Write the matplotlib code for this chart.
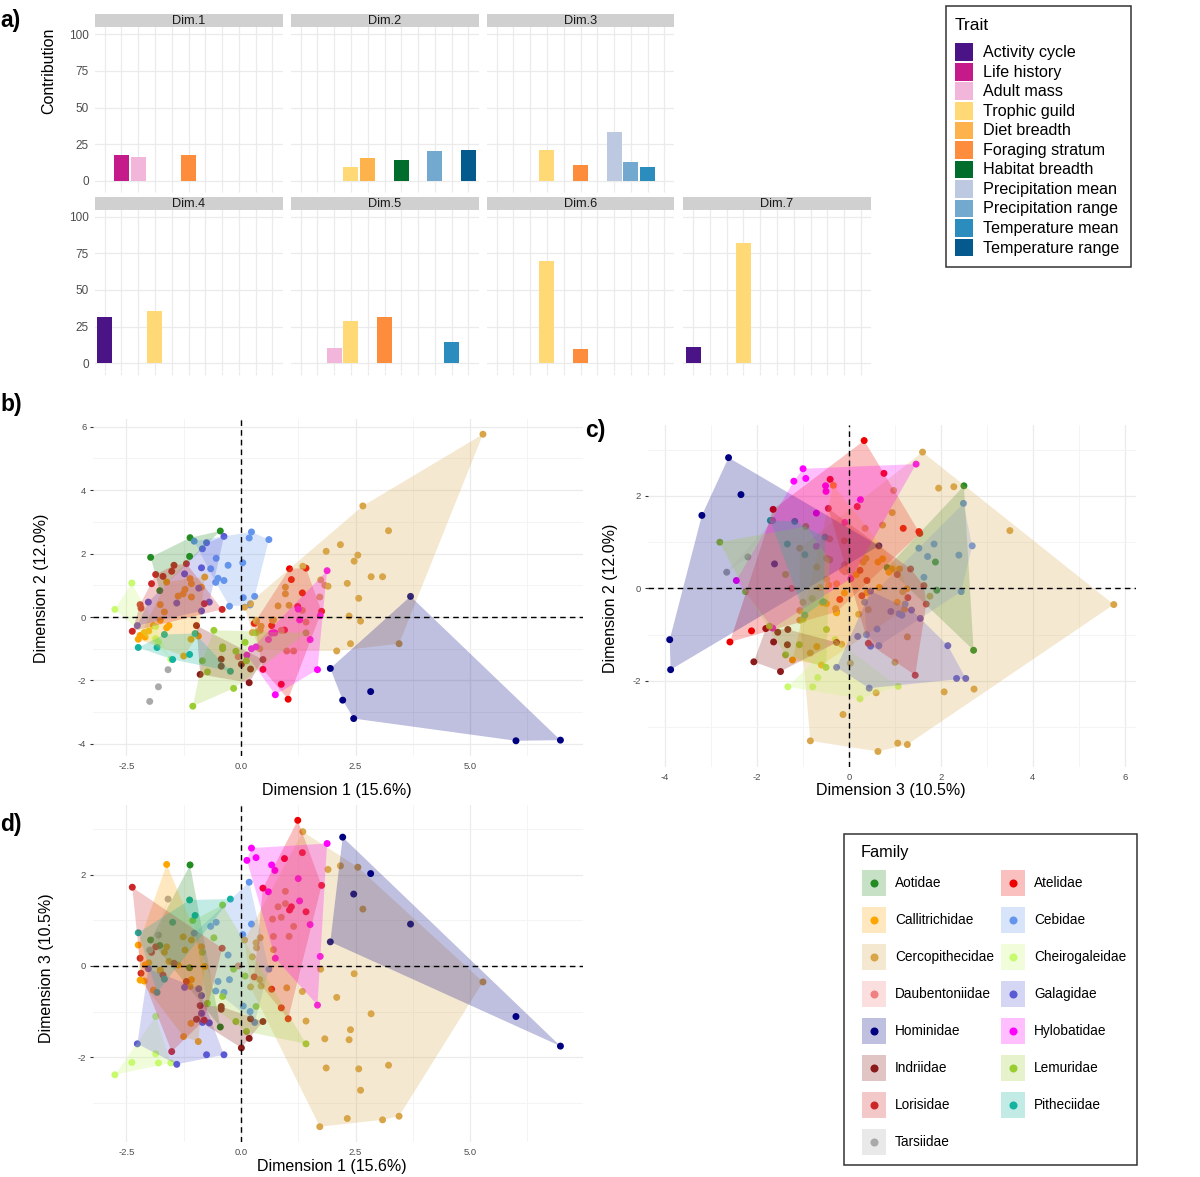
import numpy as np
import matplotlib
matplotlib.use("Agg")
import matplotlib.pyplot as plt
from matplotlib.patches import Rectangle, Polygon
from matplotlib.colors import to_rgba

plt.rcParams['font.family'] = ['Liberation Sans', 'DejaVu Sans']
plt.rcParams['axes.unicode_minus'] = False

# ---------------- Panel a data ----------------
traits = ["Activity cycle", "Life history", "Adult mass", "Trophic guild", "Diet breadth",
          "Foraging stratum", "Habitat breadth", "Precipitation mean", "Precipitation range",
          "Temperature mean", "Temperature range"]
trait_colors = ["#4A1486", "#C51B8A", "#F1B6DA", "#FED976", "#FEB24C", "#FD8D3C",
                "#006D2C", "#BDC9E1", "#74A9CF", "#2B8CBE", "#045A8D"]
dim_names = ["Dim.1", "Dim.2", "Dim.3", "Dim.4", "Dim.5", "Dim.6", "Dim.7"]
contrib_dim1 = [0.3, 17.7, 16.4, 0.3, 0.3, 17.7, 0.3, 0.3, 0.3, 0.3, 0.3]
contrib_dim2 = [0.3, 0.3, 0.3, 9.8, 15.5, 0.3, 14.1, 0.3, 20.2, 0.3, 20.9]
contrib_dim3 = [0.3, 0.3, 0.3, 21.4, 0.3, 10.7, 0.3, 33.4, 13.0, 9.5, 0.3]
contrib_dim4 = [31.6, 0.3, 0.3, 35.8, 0.3, 0.3, 0.3, 0.3, 0.3, 0.3, 0.3]
contrib_dim5 = [0.3, 0.3, 10.7, 29.1, 0.3, 31.8, 0.3, 0.3, 0.3, 14.4, 0.3]
contrib_dim6 = [0.3, 0.3, 0.3, 69.8, 0.3, 9.8, 0.3, 0.3, 0.3, 0.3, 0.3]
contrib_dim7 = [11.3, 0.3, 0.3, 82.2, 0.3, 0.3, 0.3, 0.3, 0.3, 0.3, 0.3]
contribs = [contrib_dim1, contrib_dim2, contrib_dim3, contrib_dim4,
            contrib_dim5, contrib_dim6, contrib_dim7]
contrib_ticks = [0, 25, 50, 75, 100]

# ---------------- Family data: (Dim1, Dim2, Dim3) ----------------
families = ["Aotidae", "Atelidae", "Callitrichidae", "Cebidae", "Cercopithecidae",
            "Cheirogaleidae", "Daubentoniidae", "Galagidae", "Hominidae", "Hylobatidae",
            "Indriidae", "Lemuridae", "Lorisidae", "Pitheciidae", "Tarsiidae"]
family_colors = ["#228B22", "#EE0000", "#FFA500", "#6495ED", "#D8A548",
                 "#C8FA6E", "#F08080", "#5A5AD5", "#000080", "#FF00FF",
                 "#8B1A1A", "#9ACD32", "#CD2626", "#13B39F", "#A9A9A9"]

aotidae = [(-1.11, 2.50, 2.22), (-0.45, 2.71, -1.34), (-1.97, 1.88, 0.57),
           (-1.12, 1.91, -0.04), (-1.77, 0.83, 0.45)]
atelidae = [(1.24, 0.33, 3.20), (1.34, 0.76, 2.49), (0.95, -0.41, 2.36), (0.48, -1.65, 1.71),
            (1.76, 0.18, 1.77), (1.10, 1.18, 1.30), (1.06, 1.52, 1.23), (1.42, 1.54, 1.19),
            (0.67, -0.27, -0.51), (0.29, -0.20, -0.24), (0.88, -2.12, -0.92), (1.03, -2.59, -1.16)]
callitrichidae = [(-2.24, -0.70, 0.46), (-2.09, -0.63, 0.02), (-2.20, -0.58, -0.31),
                  (-2.11, -0.49, -0.33), (-2.01, -0.44, 0.07), (-1.91, -0.27, -0.53),
                  (-1.62, -0.34, 2.23), (-1.25, -1.23, -1.55), (-1.09, -0.70, -1.26),
                  (-0.93, -0.60, -1.66), (-1.76, -0.10, -0.10), (-1.67, 0.16, 0.30),
                  (-1.57, -0.27, 0.10), (-1.26, 0.73, 0.64), (-1.08, 0.63, 0.57),
                  (-1.37, 0.66, 0.02), (-1.22, 0.87, 0.35), (-1.11, 1.21, -0.45),
                  (-1.62, 1.10, 0.42), (-1.76, 0.39, -0.09), (-0.79, 1.26, -0.01),
                  (-0.86, 0.94, 0.42), (-1.08, 1.05, -0.30)]
cebidae = [(0.18, 2.49, 1.84), (0.23, 2.68, 0.92), (-0.54, 1.85, 0.96), (-0.66, 1.52, 0.87),
           (0.04, 1.71, 0.69), (-0.28, 1.63, 0.24), (0.61, 2.44, -0.07), (-1.02, 2.39, 0.72),
           (-0.50, 1.22, -0.34), (-0.55, 1.09, -0.55), (-0.37, 1.15, -0.58), (0.05, 0.61, -0.88),
           (0.20, 0.38, -1.00), (0.30, 0.65, -1.24), (-0.25, 0.34, -0.30)]
cercopithecidae = [(5.28, 5.76, -0.35), (1.35, 1.60, 2.95), (2.17, 2.28, 2.20), (2.55, 1.95, 2.17),
                   (1.90, 0.97, 2.12), (2.66, 3.50, 1.25), (0.81, 0.35, 1.30), (0.97, 0.94, 1.64),
                   (2.84, 1.27, -1.05), (3.22, 2.72, -2.18), (3.09, 1.27, -3.38), (3.45, -0.84, -3.30),
                   (2.32, 1.06, -3.35), (1.72, 0.63, -3.53), (1.86, 2.07, -2.24), (2.57, 0.59, -2.26),
                   (2.61, -0.13, -2.73), (2.47, 1.76, -0.17), (2.09, -1.07, -0.69), (2.39, -0.84, -1.40),
                   (2.36, 0.03, -1.62), (1.74, 1.17, -0.07), (1.34, 0.21, -0.56), (1.42, -0.16, -1.21),
                   (0.97, 0.73, 1.37), (0.69, -0.10, 1.03), (0.88, -0.42, 1.07), (1.15, -1.07, 0.87),
                   (0.71, -0.49, 0.65), (1.05, 0.37, 0.65), (0.42, -0.42, 0.62), (0.33, -0.10, 0.51),
                   (0.08, 0.31, 0.57), (0.34, -0.14, 0.40), (0.71, -0.09, 0.36), (0.21, 0.42, -0.46),
                   (0.44, -0.29, -0.44), (1.00, -1.07, -0.48), (0.41, -1.00, -0.30), (0.25, -0.49, 0.20),
                   (1.83, 1.00, -1.60)]
cheirogaleidae = [(-2.75, 0.24, -2.39), (-2.38, 1.07, -2.12), (-1.86, -0.68, -1.93),
                  (-1.80, -0.79, -2.13), (-1.53, -1.33, -2.13), (-1.86, -0.30, -1.11)]
daubentoniidae = [(-0.06, -1.25, 0.00)]
galagidae = [(-0.37, 2.54, -1.95), (-0.75, 2.34, -1.95), (-0.84, 2.15, -1.24), (-0.86, 1.55, -0.65),
             (-1.23, 1.36, -0.47), (-2.02, 0.47, -0.06), (-1.40, 0.44, -2.16), (-0.69, 0.47, -1.25),
             (-0.86, 0.19, -1.04), (-2.26, -0.27, -1.71), (-0.92, 0.91, -0.50)]
hominidae = [(3.70, 0.65, 0.92), (1.95, -1.62, 0.53), (2.22, -2.62, 2.83), (2.46, -3.20, 1.58),
             (2.83, -2.35, 2.03), (6.00, -3.90, -1.11), (6.97, -3.88, -1.76)]
hylobatidae = [(0.23, -1.00, 2.59), (0.13, -1.20, 2.32), (0.33, -0.94, 2.38), (0.67, -0.51, 2.22),
               (0.74, -0.50, 2.10), (1.88, 1.46, 2.69), (1.25, 0.25, 1.92), (0.60, -0.71, 1.63),
               (1.28, -0.09, 1.43), (1.51, -0.71, 0.91), (0.75, -2.45, 0.17), (1.73, 0.04, 0.21),
               (1.67, -1.66, -0.86)]
indriidae = [(0.01, -1.49, -1.80), (0.18, -2.07, -1.59), (0.48, -1.34, -1.22), (0.21, -1.64, -1.16),
             (-0.43, -1.33, -0.89), (-0.43, -1.55, -0.95), (-0.89, -1.81, -0.87), (-0.97, -0.27, -1.17)]
lemuridae = [(-1.05, -2.81, 1.00), (-0.16, -2.25, -0.07), (-0.59, -0.42, 0.62), (-0.73, -1.73, -0.82),
             (0.33, -0.49, -0.89), (0.12, -1.38, -1.44), (-0.11, -1.08, -1.22), (-0.40, -1.00, -0.67),
             (-0.40, -0.94, 1.34), (-0.84, -1.38, 0.30), (0.09, -0.80, -0.22), (1.42, -0.50, -1.71)]
lorisidae = [(-2.37, -0.45, 1.73), (-1.86, 1.34, 0.42), (-2.20, 0.39, 0.17), (-2.18, 0.28, -0.16),
             (-1.46, 1.63, 0.06), (-1.19, 1.68, -0.34), (-0.80, 0.42, -1.19), (-1.51, 1.44, -1.88),
             (-0.41, 0.24, 0.39), (-1.95, 1.05, 0.30), (-1.70, 1.28, -0.20)]
pitheciidae = [(-2.24, -0.96, 0.73), (-1.12, -1.18, 1.45), (-1.00, -0.52, 1.11), (-0.23, -1.71, 1.47),
               (-1.49, -1.34, 0.96), (-1.67, -0.55, -0.29), (-1.83, -0.96, -0.58)]
tarsiidae = [(-1.99, -2.66, 0.35), (-1.80, -2.20, 0.68), (-1.59, -1.66, 1.47)]

family_points = [aotidae, atelidae, callitrichidae, cebidae, cercopithecidae, cheirogaleidae,
                 daubentoniidae, galagidae, hominidae, hylobatidae, indriidae, lemuridae,
                 lorisidae, pitheciidae, tarsiidae]

# ---------------- helpers ----------------
W, H = 1200, 1177
fig = plt.figure(figsize=(W / 100, H / 100), dpi=100)


def add_ax(l, t, r, b):
    return fig.add_axes([l / W, 1 - b / H, (r - l) / W, (b - t) / H])


def convex_hull(pts):
    pts = sorted(set(pts))
    if len(pts) < 3:
        return pts

    def cross(o, a, b):
        return (a[0] - o[0]) * (b[1] - o[1]) - (a[1] - o[1]) * (b[0] - o[0])
    lower = []
    for p in pts:
        while len(lower) >= 2 and cross(lower[-2], lower[-1], p) <= 0:
            lower.pop()
        lower.append(p)
    upper = []
    for p in reversed(pts):
        while len(upper) >= 2 and cross(upper[-2], upper[-1], p) <= 0:
            upper.pop()
        upper.append(p)
    return lower[:-1] + upper[:-1]


TICK_C = "#4D4D4D"
GRID_C = "#EBEBEB"
HULL_ALPHA = 0.25

# ---------------- Panel a ----------------
col_x = [(94.5, 282.5), (290.5, 478.5), (486.5, 674.5), (683, 871)]
rows = [(14.3, 27.0, 188.3), (197.0, 209.5, 370.5)]
for k, (name, vals) in enumerate(zip(dim_names, contribs)):
    r = 0 if k < 3 else 1
    c = k if k < 3 else k - 3
    l, rr = col_x[c]
    st, pt, pb = rows[r]
    ax = add_ax(l, pt, rr, pb)
    ax.bar(np.arange(len(traits)), vals, width=0.9, color=trait_colors, zorder=2)
    ax.set_xlim(-0.6, len(traits) - 0.4)
    ax.set_ylim(-5, 105)
    ax.set_xticks(np.arange(len(traits)))
    ax.set_xticklabels([])
    ax.set_yticks(contrib_ticks)
    ax.grid(True, color=GRID_C, lw=0.9)
    ax.set_axisbelow(True)
    for s in ax.spines.values():
        s.set_visible(False)
    ax.tick_params(axis='x', length=3, color=GRID_C, pad=0)
    ax.tick_params(axis='y', length=0, labelsize=8.5, labelcolor=TICK_C, pad=4)
    if c != 0:
        ax.set_yticklabels([])
    sax = add_ax(l, st, rr, pt)
    sax.set_facecolor("#D0D0D0")
    sax.set_xticks([]); sax.set_yticks([])
    for s in sax.spines.values():
        s.set_visible(False)
    sax.text(0.5, 0.45, name, ha='center', va='center', fontsize=9.2, color="#1A1A1A",
             transform=sax.transAxes)

# ---------------- Scatter panels ----------------
all_pts = np.array([p for fam in family_points for p in fam])


def lims(v):
    lo, hi = v.min(), v.max()
    pad = 0.05 * (hi - lo)
    return lo - pad, hi + pad


panels = [
    # (box, xi, yi, xticks, xlabels, xminor, yticks, ylabels, yminor)
    ((92.6, 418.9, 582.7, 756.1), 0, 1, [-2.5, 0, 2.5, 5.0], ["-2.5", "0.0", "2.5", "5.0"],
     [-1.25, 1.25, 3.75, 6.25], [-4, -2, 0, 2, 4, 6], ["-4", "-2", "0", "2", "4", "6"],
     [-3, -1, 1, 3, 5]),
    ((647.5, 425.0, 1136.0, 767.0), 1, 2, [-4, -2, 0, 2, 4, 6], ["-4", "-2", "0", "2", "4", "6"],
     [-3, -1, 1, 3, 5], [-2, 0, 2], ["-2", "0", "2"], [-3, -1, 1, 3]),
    ((92.6, 805.0, 582.7, 1142.0), 0, 2, [-2.5, 0, 2.5, 5.0], ["-2.5", "0.0", "2.5", "5.0"],
     [-1.25, 1.25, 3.75, 6.25], [-2, 0, 2], ["-2", "0", "2"], [-3, -1, 1, 3]),
]

for box, xi, yi, xt, xtl, xmn, yt, ytl, ymn in panels:
    ax = add_ax(*box)
    ax.set_xlim(*lims(all_pts[:, xi]))
    ax.set_ylim(*lims(all_pts[:, yi]))
    ax.set_xticks(xt); ax.set_xticklabels(xtl)
    ax.set_yticks(yt); ax.set_yticklabels(ytl)
    ax.set_xticks(xmn, minor=True); ax.set_yticks(ymn, minor=True)
    ax.grid(True, which='major', color=GRID_C, lw=0.9, zorder=0)
    ax.grid(True, which='minor', color="#F3F3F3", lw=0.6, zorder=0)
    ax.set_axisbelow(True)
    for s in ax.spines.values():
        s.set_visible(False)
    ax.tick_params(axis='x', which='both', length=0, labelsize=6.8, labelcolor=TICK_C, pad=4)
    ax.tick_params(axis='y', which='major', length=2.5, color="#333333", labelsize=6.8,
                   labelcolor=TICK_C, pad=2)
    ax.tick_params(axis='y', which='minor', length=0)
    for fam, col in zip(family_points, family_colors):
        arr = np.array(fam)
        ax.scatter(arr[:, xi], arr[:, yi], s=25, color=col, edgecolors='none', zorder=2)
    for fam, col in zip(family_points, family_colors):
        hull = convex_hull([(p[xi], p[yi]) for p in fam])
        if len(hull) >= 3:
            ax.add_patch(Polygon(hull, closed=True, facecolor=col, alpha=HULL_ALPHA,
                                 edgecolor='none', zorder=3))
    ax.axhline(0, color='black', lw=1.0, ls=(0, (4, 3)), zorder=4)
    ax.axvline(0, color='black', lw=1.0, ls=(0, (4, 3)), zorder=4)

# ---------------- Overlay: labels & legends ----------------
lax = fig.add_axes([0, 0, 1, 1])
lax.set_xlim(0, W); lax.set_ylim(H, 0)
lax.axis('off')

for txt, x, y in [("a)", 0, 20), ("b)", 0, 404), ("c)", 585, 430), ("d)", 0, 825)]:
    lax.text(x, y, txt, fontsize=16.5, fontweight='bold', ha='left', va='center')

lax.text(49, 71, "Contribution", rotation=90, fontsize=11.5, ha='center', va='center')
lax.text(337, 790, "Dimension 1 (15.6%)", fontsize=11.5, ha='center', va='center')
lax.text(42, 588, "Dimension 2 (12.0%)", rotation=90, fontsize=11.5, ha='center', va='center')
lax.text(891, 791, "Dimension 3 (10.5%)", fontsize=11.5, ha='center', va='center')
lax.text(611, 598, "Dimension 2 (12.0%)", rotation=90, fontsize=11.5, ha='center', va='center')
lax.text(332, 1167, "Dimension 1 (15.6%)", fontsize=11.5, ha='center', va='center')
lax.text(47, 968, "Dimension 3 (10.5%)", rotation=90, fontsize=11.5, ha='center', va='center')

# Trait legend
lax.add_patch(Rectangle((946, 6), 185, 261, fill=False, edgecolor='#333333', lw=1.1))
lax.text(955, 25, "Trait", fontsize=12.5, ha='left', va='center')
for i, (t, col) in enumerate(zip(traits, trait_colors)):
    y0 = 43.3 + 19.55 * i
    lax.add_patch(Rectangle((955, y0), 17.7, 17.7, facecolor=col, edgecolor='none'))
    lax.text(983, y0 + 9.2, t, fontsize=11.6, ha='left', va='center')

# Family legend
lax.add_patch(Rectangle((843.5, 833.5), 293, 331.5, fill=False, edgecolor='#333333', lw=1.1))
lax.text(861, 853, "Family", fontsize=11.8, ha='left', va='center')
for i, (fname, col) in enumerate(zip(families, family_colors)):
    rr, cc = divmod(i, 2)
    kx = 861.7 if cc == 0 else 1001.0
    tx = 895.0 if cc == 0 else 1034.3
    ky = 870.0 + 37.0 * rr
    lax.add_patch(Rectangle((kx, ky), 24, 25.7, facecolor=to_rgba(col, HULL_ALPHA), edgecolor='none'))
    lax.plot([kx + 12], [ky + 12.85], 'o', ms=5.8, color=col, mec='none')
    lax.text(tx, ky + 13.3, fname, fontsize=9.8, ha='left', va='center')

fig.savefig("out.png", dpi=100)
